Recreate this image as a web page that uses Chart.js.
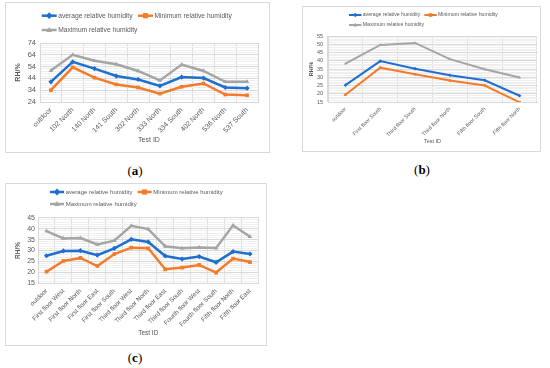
<!DOCTYPE html>
<html>
<head>
<meta charset="utf-8">
<script src="https://cdn.jsdelivr.net/npm/chart.js@4.4.1/dist/chart.umd.min.js"></script>
<style>
  body { margin: 0; background: #fff; width: 550px; height: 368px; position: relative; overflow: hidden; }
  .box { position: absolute; border: 1px solid #d9d9d9; box-sizing: border-box; }
  .box canvas { position: absolute; left: -1px; top: -1px; }
  .cap { position: absolute; font-family: "Liberation Serif", serif; font-size: 13px; line-height: 14px; color: #000; transform: translateX(-50%); }
</style>
</head>
<body>
<div class="box" style="left:5px;top:2px;width:265px;height:151px"><canvas id="chartA" width="265" height="151"></canvas></div>
<div class="box" style="left:302px;top:6px;width:239px;height:146px"><canvas id="chartB" width="239" height="146"></canvas></div>
<div class="box" style="left:5px;top:183px;width:262px;height:163px"><canvas id="chartC" width="262" height="163"></canvas></div>
<div class="cap" style="left:135px;top:164px">(<b>a</b>)</div>
<div class="cap" style="left:422px;top:163px">(<b>b</b>)</div>
<div class="cap" style="left:135px;top:351px">(<b>c</b>)</div>

<script>
// series names
const seriesNames = ['average relative humidity', 'Minimum relative humidity', 'Maximum relative humidity'];

// (a)
const labelsA = ['outdoor', '102 North', '140 North', '141 South', '302 North', '333 North', '334 South', '402 North', '536 North', '537 South'];
const avgA = [41.1, 58.0, 52.3, 46.0, 43.1, 37.7, 45.1, 44.3, 36.3, 35.7];
const minA = [34.0, 53.4, 44.6, 38.9, 36.3, 31.1, 36.9, 39.7, 30.3, 29.7];
const maxA = [50.6, 64.0, 58.9, 56.0, 50.3, 42.3, 55.7, 50.3, 41.1, 41.1];
const yTicksA = [24, 34, 44, 54, 64, 74];

// (b)
const labelsB = ['outdoor', 'First floor South', 'Third floor South', 'Third floor North', 'Fifth floor South', 'Fifth floor North'];
const avgB = [25.2, 39.8, 35.2, 31.2, 28.2, 18.8];
const minB = [19.4, 35.8, 31.8, 28.0, 25.0, 14.8];
const maxB = [38.2, 49.6, 50.8, 41.0, 34.8, 29.8];
const yTicksB = [15, 20, 25, 30, 35, 40, 45, 50, 55];

// (c)
const labelsC = ['outdoor', 'First floor West', 'First floor North', 'First floor East', 'First floor South', 'Third floor West', 'Third floor North', 'Third floor East', 'Third floor South', 'Fourth floor West', 'Fourth floor South', 'Fifth floor North', 'Fifth floor East'];
const avgC = [27.6, 29.8, 29.9, 27.9, 31.0, 35.1, 33.9, 27.5, 26.1, 27.2, 24.6, 29.5, 28.4];
const minC = [20.3, 25.2, 26.6, 22.9, 28.4, 31.3, 31.0, 21.4, 22.2, 23.4, 19.9, 26.3, 24.7];
const maxC = [38.9, 35.5, 35.7, 32.8, 34.5, 41.3, 39.8, 31.9, 31.0, 31.4, 31.1, 41.5, 36.3];
const yTicksC = [15, 20, 25, 30, 35, 40, 45];

const colors = ['#1f6fd0', '#f47b2a', '#a5a5a5'];
const styles = ['rectRot', 'rect', 'triangle'];
const FONT = '"Liberation Sans", Arial, sans-serif';
const TXT = '#595959';

function drawMarker(ctx, style, x, y, r, color) {
  ctx.fillStyle = color;
  ctx.beginPath();
  if (style === 'rectRot') {
    ctx.moveTo(x, y - r * 1.3); ctx.lineTo(x + r * 1.3, y); ctx.lineTo(x, y + r * 1.3); ctx.lineTo(x - r * 1.3, y);
  } else if (style === 'rect') {
    ctx.rect(x - r, y - r, r * 2, r * 2);
  } else {
    ctx.moveTo(x, y - r * 1.2); ctx.lineTo(x + r * 1.1, y + r * 0.8); ctx.lineTo(x - r * 1.1, y + r * 0.8);
  }
  ctx.closePath();
  ctx.fill();
}

// legend like excel: line + marker, fixed spots
const excelLegend = {
  id: 'excelLegend',
  afterDraw(chart, args, o) {
    if (!o.items) return;
    const ctx = chart.ctx;
    ctx.save();
    ctx.font = o.size + 'px ' + FONT;
    ctx.textBaseline = 'middle';
    o.items.forEach(it => {
      const ds = chart.data.datasets[it.i];
      ctx.strokeStyle = ds.borderColor;
      ctx.lineWidth = ds.borderWidth;
      ctx.beginPath();
      ctx.moveTo(it.x, it.y);
      ctx.lineTo(it.x + o.symW, it.y);
      ctx.stroke();
      drawMarker(ctx, ds.pointStyle, it.x + o.symW / 2, it.y, ds.pointRadius, ds.borderColor);
      ctx.fillStyle = TXT;
      ctx.fillText(ds.label, it.x + o.textOff, it.y);
    });
    ctx.restore();
  }
};

function isMajor(v, yMin, step) {
  const r = (v - yMin) / step;
  return Math.abs(r - Math.round(r)) < 1e-6;
}

function makeChart(id, labels, series, yTicks, lay) {
  const cv = document.getElementById(id);
  const W = cv.width, H = cv.height;
  const step = yTicks[1] - yTicks[0];
  const yMin = yTicks[0], yMax = yTicks[yTicks.length - 1];
  return new Chart(cv, {
    type: 'line',
    data: {
      labels: labels,
      datasets: series.map((s, i) => ({
        label: seriesNames[i],
        data: s,
        borderColor: colors[i],
        backgroundColor: colors[i],
        borderWidth: lay.lw,
        pointStyle: styles[i],
        pointRadius: lay.pr,
        pointBorderWidth: 0,
        tension: 0
      }))
    },
    options: {
      responsive: false,
      devicePixelRatio: 1,
      animation: false,
      layout: { padding: { left: lay.pl, right: W - lay.r, top: lay.t, bottom: lay.pb } },
      plugins: {
        legend: { display: false },
        tooltip: { enabled: false },
        excelLegend: lay.legend
      },
      scales: {
        x: {
          offset: true,
          grid: { offset: true, color: '#d9d9d9', drawTicks: false },
          border: { color: '#d9d9d9' },
          ticks: { autoSkip: false, minRotation: 45, maxRotation: 45, padding: lay.xPad, color: TXT, font: { family: FONT, size: lay.xFont } },
          title: { display: true, text: 'Test ID', color: TXT, font: { family: FONT, size: lay.titleFont }, padding: { top: 0, bottom: lay.xTitlePad } },
          afterFit: s => { s.height = H - lay.pb - lay.b; }
        },
        y: {
          min: yMin,
          max: yMax,
          grid: {
            drawTicks: false,
            color: c => (isMajor(c.tick.value, yMin, step) ? '#d9d9d9' : '#efefef')
          },
          border: { color: '#d9d9d9' },
          ticks: {
            stepSize: step / lay.minor,
            autoSkip: false,
            maxTicksLimit: 200,
            padding: lay.yPad,
            color: TXT,
            font: { family: FONT, size: lay.yFont },
            callback: v => (isMajor(v, yMin, step) ? Math.round(v) : '')
          },
          title: { display: true, text: 'RH/%', color: TXT, font: { family: FONT, size: lay.titleFont, weight: 'bold' }, padding: { top: 3, bottom: 0 } },
          afterFit: s => { s.width = lay.l - lay.pl; }
        }
      }
    },
    plugins: [excelLegend]
  });
}

makeChart('chartA', labelsA, [avgA, minA, maxA], yTicksA, {
  l: 35, r: 253, t: 41, b: 100, pl: 6, pb: 4,
  lw: 2.5, pr: 2.6, minor: 5,
  xFont: 7, yFont: 7.5, titleFont: 7, xPad: 4, yPad: 4, xTitlePad: 4.8,
  legend: { size: 6.7, symW: 15, textOff: 16.5, items: [
    { i: 0, x: 36.7, y: 13.7 }, { i: 1, x: 133, y: 13.7 }, { i: 2, x: 36.7, y: 28 }
  ] }
});

makeChart('chartB', labelsB, [avgB, minB, maxB], yTicksB, {
  l: 26, r: 236, t: 30, b: 96, pl: 3, pb: 4,
  lw: 2, pr: 1.8, minor: 5,
  xFont: 5.3, yFont: 5.5, titleFont: 5.5, xPad: 4, yPad: 5, xTitlePad: 3.7,
  legend: { size: 5.2, symW: 12.5, textOff: 13.7, items: [
    { i: 0, x: 47, y: 9 }, { i: 1, x: 122.3, y: 9 }, { i: 2, x: 47, y: 19 }
  ] }
});

makeChart('chartC', labelsC, [avgC, minC, maxC], yTicksC, {
  l: 33, r: 253.5, t: 34.7, b: 100.3, pl: 6, pb: 4,
  lw: 2.5, pr: 2.6, minor: 5,
  xFont: 6.3, yFont: 7, titleFont: 6.5, xPad: 4, yPad: 3, xTitlePad: 5.1,
  legend: { size: 6, symW: 14, textOff: 15.7, items: [
    { i: 0, x: 45, y: 9 }, { i: 1, x: 132.6, y: 9 }, { i: 2, x: 45, y: 21 }
  ] }
});
</script>
</body>
</html>
